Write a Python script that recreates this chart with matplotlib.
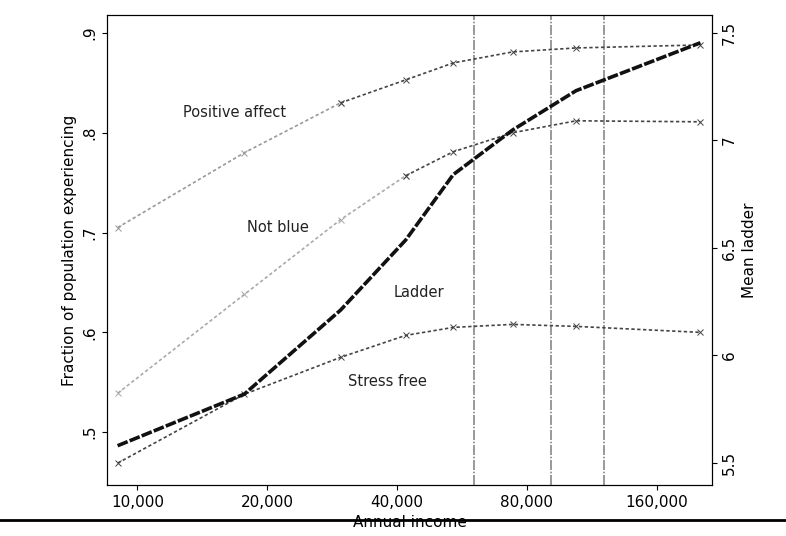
import matplotlib
matplotlib.use("Agg")
import matplotlib.pyplot as plt
from matplotlib.lines import Line2D

income = [9000, 17700, 29600, 41900, 54000, 74100, 104000, 202000]
positive_affect = [0.705, 0.780, 0.830, 0.853, 0.870, 0.881, 0.885, 0.888]
not_blue = [0.539, 0.638, 0.713, 0.757, 0.781, 0.800, 0.812, 0.811]
stress_free = [0.469, 0.538, 0.575, 0.597, 0.605, 0.608, 0.606, 0.600]
ladder = [5.579, 5.819, 6.210, 6.536, 6.840, 7.047, 7.230, 7.453]
vlines = [60400, 91000, 121000]
xticks = [10000, 20000, 40000, 80000, 160000]
xticklabels = ["10,000", "20,000", "40,000", "80,000", "160,000"]
lticks = [0.5, 0.6, 0.7, 0.8, 0.9]
lticklabels = [".5", ".6", ".7", ".8", ".9"]
rticks = [5.5, 6, 6.5, 7, 7.5]
rticklabels = ["5.5", "6", "6.5", "7", "7.5"]

fig = plt.figure(figsize=(7.86, 5.36), dpi=100)
ax = fig.add_axes([0.136, 0.095, 0.77, 0.877])
ax.set_xscale("log")
ax.set_xlim(8500, 215000)
ax.set_ylim(0.447, 0.918)
for v in vlines:
    ax.axvline(v, color="#888888", lw=1.2, ls=(0, (6, 1, 1, 1)))
sty = dict(color="#444444", lw=1.2, ls=(0, (2, 1.5)), marker="x", ms=4, mew=0.7)
ax.plot(income[:3], positive_affect[:3], **{**sty, "color": "#999999"})
ax.plot(income[2:], positive_affect[2:], **sty)
ax.plot(income[:4], not_blue[:4], **{**sty, "color": "#aaaaaa"})
ax.plot(income[3:], not_blue[3:], **sty)
ax.plot(income, stress_free, **sty)
ax.set_xticks(xticks)
ax.set_xticklabels(xticklabels)
ax.minorticks_off()
ax.set_xticks([], minor=True)
ax.set_yticks(lticks)
ax.set_yticklabels(lticklabels, rotation=90, va="center")
ax.set_ylabel("Fraction of population experiencing", fontsize=11)
ax.set_xlabel("Annual income", fontsize=11, labelpad=4)
ax.tick_params(labelsize=11)

ax2 = ax.twinx()
ax2.set_ylim(5.396, 7.582)
ax2.plot(income, ladder, color="#111111", lw=2.6, ls=(0, (3, 0.6)))
ax2.set_yticks(rticks)
ax2.set_yticklabels(rticklabels, rotation=90, va="center")
ax2.set_ylabel("Mean ladder", fontsize=11)
ax2.tick_params(labelsize=11)

tk = dict(fontsize=10.5, ha="center", va="center", color="#222222")
ax.text(16800, 0.82, "Positive affect", **tk)
ax.text(21200, 0.705, "Not blue", **tk)
ax.text(44900, 0.640, "Ladder", **tk)
ax.text(38100, 0.551, "Stress free", **tk)

fig.add_artist(Line2D([0, 1], [1 - 520 / 536] * 2, color="black", lw=2))
fig.savefig("out.png", dpi=100)
